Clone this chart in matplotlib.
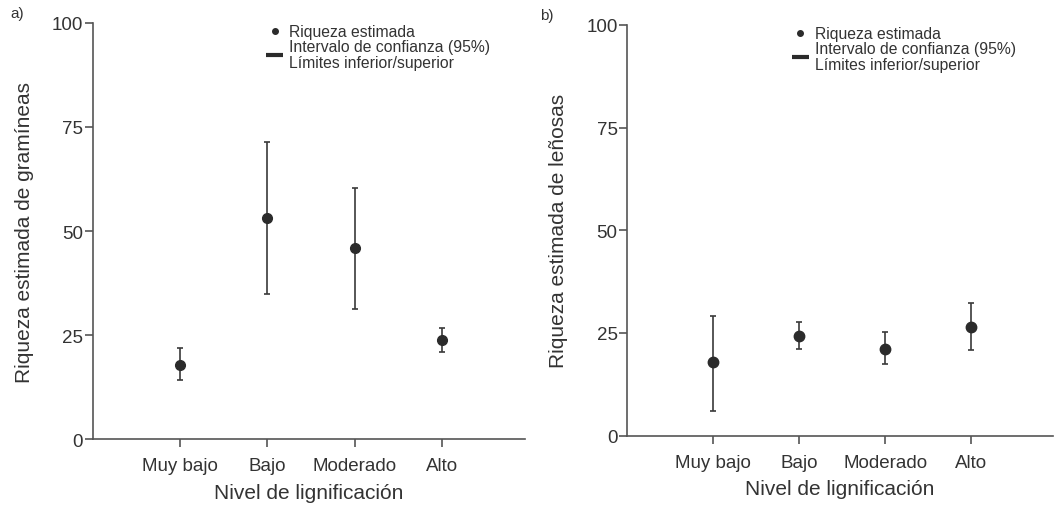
import numpy as np
import matplotlib
matplotlib.use("Agg")
import matplotlib.pyplot as plt
from matplotlib.lines import Line2D

plt.rcParams['font.family'] = ['Liberation Sans', 'DejaVu Sans']

niveles = ["Muy bajo", "Bajo", "Moderado", "Alto"]

# a) gramineas
gram_est = [17.9, 53.1, 46.0, 23.9]
gram_inf = [14.2, 34.8, 31.3, 21.0]
gram_sup = [21.8, 71.3, 60.4, 26.8]

# b) leñosas
len_est = [17.9, 24.3, 21.1, 26.4]
len_inf = [6.0, 21.1, 17.5, 20.8]
len_sup = [29.2, 27.6, 25.2, 32.3]

yticks = [0, 25, 50, 75, 100]
col = "#2b2b2b"
spine_col = "#555555"

fig = plt.figure(figsize=(10.56, 5.06), dpi=100)
ax_a = fig.add_axes([0.088, 0.130, 0.409, 0.823])
ax_b = fig.add_axes([0.594, 0.137, 0.403, 0.812])


def panel(ax, est, inf, sup, ylabel, msize, leg_x):
    x = np.arange(1, len(niveles) + 1)
    est = np.array(est)
    err = [est - np.array(inf), np.array(sup) - est]
    ax.errorbar(x, est, yerr=err, fmt='o', color=col, ecolor="#3a3a3a",
                elinewidth=1.2, capsize=2.5, capthick=1.2, markersize=msize)
    ax.set_xlim(0, 4.95)
    ax.set_ylim(0, 100)
    ax.set_yticks(yticks)
    ax.set_xticks(x)
    ax.set_xticklabels(niveles)
    for s in ["top", "right"]:
        ax.spines[s].set_visible(False)
    for s in ["left", "bottom"]:
        ax.spines[s].set_color(spine_col)
        ax.spines[s].set_linewidth(1.2)
    ax.tick_params(axis='both', colors=spine_col, length=6, width=1.2,
                   labelcolor="#333333", labelsize=13.5)
    ax.tick_params(axis='x', pad=7)
    ax.tick_params(axis='y', pad=1)
    ax.set_xlabel("Nivel de lignificación", fontsize=15, color="#333333", labelpad=6)
    ax.set_ylabel(ylabel, fontsize=15, color="#333333", labelpad=13)

    handles = [Line2D([], [], marker='o', linestyle='none', color=col, markersize=4),
               Line2D([], [], color=col, linewidth=3, solid_capstyle='butt')]
    labels = ["Riqueza estimada",
              "Intervalo de confianza (95%)\nLímites inferior/superior"]
    leg = ax.legend(handles, labels, loc='upper left', bbox_to_anchor=(leg_x, 1.012),
                    frameon=False, fontsize=11.3, handlelength=1.1, handletextpad=0.4,
                    labelspacing=0.0, borderaxespad=0)
    for t in leg.get_texts():
        t.set_color("#333333")
        t.set_linespacing(1.05)


panel(ax_a, gram_est, gram_inf, gram_sup, "Riqueza estimada de gramíneas", 7, 0.386)
panel(ax_b, len_est, len_inf, len_sup, "Riqueza estimada de leñosas", 7.5, 0.372)

fig.text(10 / 1056, 1 - 14 / 506, "a)", fontsize=11, color="#333333", va='center')
fig.text(540 / 1056, 1 - 16 / 506, "b)", fontsize=11, color="#333333", va='center')

fig.savefig("out.png", dpi=100)
